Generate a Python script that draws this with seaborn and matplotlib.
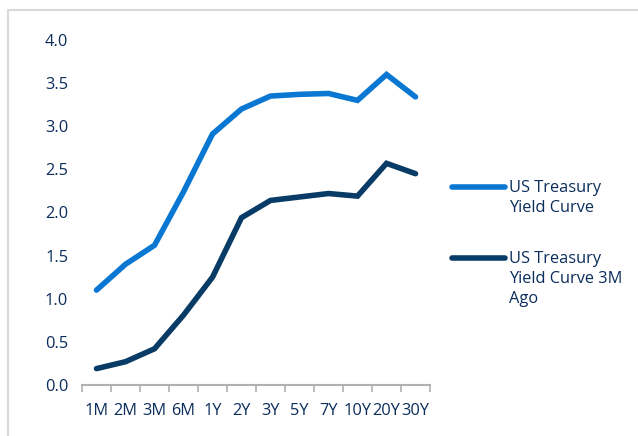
import numpy as np
import pandas as pd
import matplotlib
matplotlib.use("Agg")
import matplotlib.pyplot as plt
from matplotlib.lines import Line2D
from matplotlib.patches import Rectangle
import seaborn as sns

# ── Data ──────────────────────────────────────────────
tenors = ["1M", "2M", "3M", "6M", "1Y", "2Y", "3Y", "5Y", "7Y", "10Y", "20Y", "30Y"]
curve_now = [1.10, 1.40, 1.62, 2.24, 2.91, 3.20, 3.35, 3.37, 3.38, 3.30, 3.60, 3.34]
curve_3m = [0.19, 0.27, 0.42, 0.81, 1.25, 1.94, 2.14, 2.18, 2.22, 2.19, 2.57, 2.45]
series_names = ["US Treasury\nYield Curve", "US Treasury\nYield Curve 3M\nAgo"]
colors = ["#0a78d2", "#083b66"]
text_col = "#0b2d5b"

df = pd.DataFrame({
    "tenor": tenors * 2,
    "yield": curve_now + curve_3m,
    "series": [series_names[0]] * len(tenors) + [series_names[1]] * len(tenors),
})

sns.set_theme(style="white")
plt.rcParams["font.family"] = ["Open Sans", "DejaVu Sans"]
plt.rcParams["font.weight"] = "medium"

W, H = 638, 436
fig = plt.figure(figsize=(W / 100, H / 100), dpi=100)
ax = fig.add_axes([82 / W, 1 - 385 / H, 348 / W, 345 / H])

sns.lineplot(data=df, x="tenor", y="yield", hue="series", palette=colors,
             sort=False, linewidth=4.0, legend=False, ax=ax)
for ln in ax.lines:
    ln.set_solid_capstyle("round")
    ln.set_solid_joinstyle("miter")

ax.set_xlim(-0.5, len(tenors) - 0.5)
ax.set_ylim(0, 4)
ax.set_yticks(np.arange(0, 4.01, 0.5))
ax.set_yticklabels([f"{v:.1f}" for v in np.arange(0, 4.01, 0.5)])
ax.set_xticks(range(len(tenors)))
ax.set_xticklabels(tenors)
ax.set_xticks(np.arange(-0.5, len(tenors), 1), minor=True)
ax.tick_params(axis="x", which="major", length=0, pad=13, labelsize=11.8, labelcolor=text_col)
ax.tick_params(axis="x", which="minor", length=5, width=1.2, color="#b0b0b0", bottom=True, direction="out")
ax.tick_params(axis="y", length=0, pad=10, labelsize=11.8, labelcolor=text_col)
ax.set_xlabel("")
ax.set_ylabel("")
for s in ["top", "right", "left"]:
    ax.spines[s].set_visible(False)
ax.spines["bottom"].set_color("#b0b0b0")
ax.spines["bottom"].set_linewidth(1.5)

# legend drawn by hand: handle lines up with the first text line
leg_rows = [187, 258]
for name, c, yy in zip(series_names, colors, leg_rows):
    fig.add_artist(Line2D([452 / W, 505 / W], [1 - yy / H] * 2, transform=fig.transFigure,
                          color=c, lw=4.0, solid_capstyle="round"))
    fig.text(509 / W, 1 - (yy - 7) / H, name, ha="left", va="top", fontsize=11.8,
             color=text_col, linespacing=1.35)

# light border frame around the chart area
fig.patches.append(Rectangle((8 / W, -0.1), 1.2, 1 - 10 / H + 0.1, transform=fig.transFigure,
                             fill=False, edgecolor="#d9d9d9", linewidth=1.5))

fig.savefig("out.png", dpi=100)
